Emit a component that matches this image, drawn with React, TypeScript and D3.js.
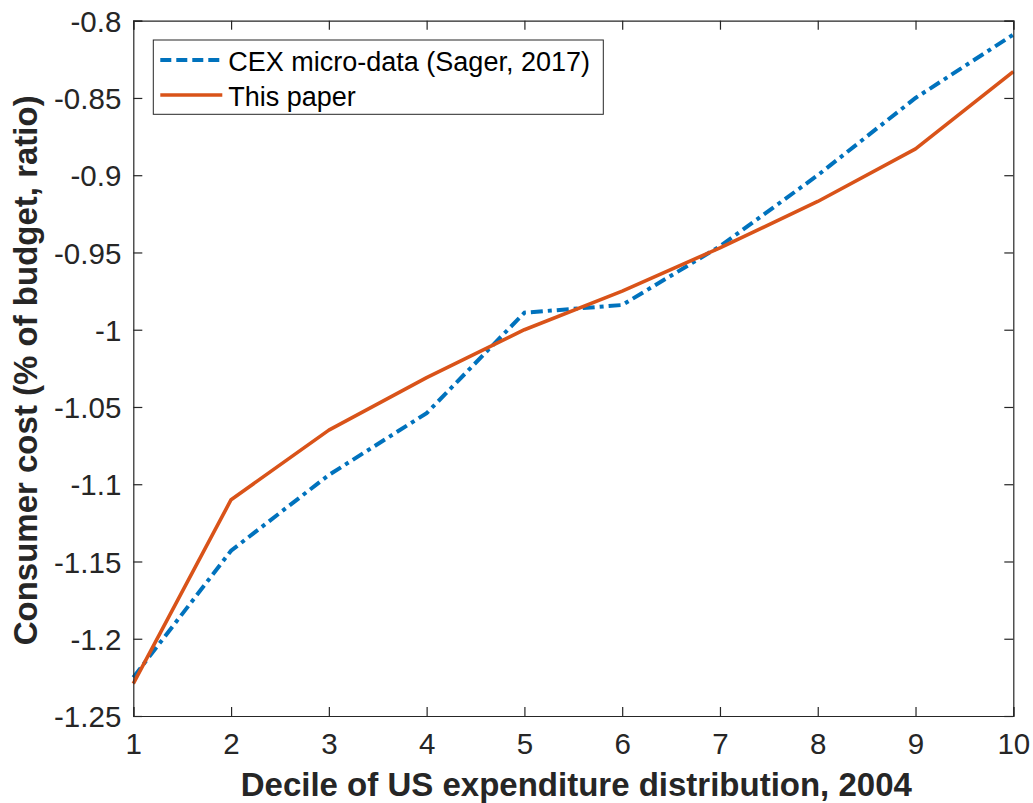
import React, { useRef, useEffect } from 'react';
import * as d3 from 'd3';

const deciles = [1, 2, 3, 4, 5, 6, 7, 8, 9, 10];
const cexValues = [-1.225, -1.143, -1.094, -1.054, -0.989, -0.984, -0.946, -0.9, -0.85, -0.809];
const paperValues = [-1.229, -1.11, -1.065, -1.031, -1.0, -0.975, -0.947, -0.917, -0.883, -0.833];
const yTicks = [-0.8, -0.85, -0.9, -0.95, -1, -1.05, -1.1, -1.15, -1.2, -1.25];
const seriesNames = ['CEX micro-data (Sager, 2017)', 'This paper'];

const axisColor = '#262626';
const blue = '#0072BD';
const orange = '#D95319';
const font = '"Liberation Sans", Arial, Helvetica, sans-serif';

const App = () => {
  const svgRef = useRef<SVGSVGElement>(null);
  const width = 1033;
  const height = 803;
  const margin = { top: 20.7, right: 19.7, bottom: 87, left: 133.3 };

  useEffect(() => {
    const svg = d3.select(svgRef.current);
    svg.selectAll('*').remove();

    const innerW = width - margin.left - margin.right;
    const innerH = height - margin.top - margin.bottom;

    const xScale = d3.scaleLinear().domain([1, 10]).range([0, innerW]);
    const yScale = d3.scaleLinear().domain([-1.25, -0.8]).range([innerH, 0]);

    const g = svg.append('g').attr('transform', `translate(${margin.left},${margin.top})`);

    // lines first, axes box on top
    const line = d3
      .line<number>()
      .x((_, i) => xScale(deciles[i]))
      .y((d) => yScale(d));

    g.append('path')
      .datum(cexValues)
      .attr('fill', 'none')
      .attr('stroke', blue)
      .attr('stroke-width', 4)
      .attr('stroke-dasharray', '12,5,4,5')
      .attr('d', line);

    g.append('path')
      .datum(paperValues)
      .attr('fill', 'none')
      .attr('stroke', orange)
      .attr('stroke-width', 3.6)
      .attr('stroke-linejoin', 'round')
      .attr('d', line);

    const tickLen = 9;

    // bottom axis with labels
    const xAxis = d3.axisBottom(xScale).tickValues(deciles).tickSize(-tickLen).tickPadding(17).tickFormat(d3.format('d'));
    const xg = g.append('g').attr('transform', `translate(0,${innerH})`).call(xAxis);
    // top axis, ticks only
    const xgTop = g.append('g').call(d3.axisTop(xScale).tickValues(deciles).tickSize(-tickLen).tickFormat(() => ''));

    const yAxis = d3
      .axisLeft(yScale)
      .tickValues(yTicks)
      .tickSize(-tickLen)
      .tickPadding(12)
      .tickFormat((d) => `${+(+d).toFixed(2)}`);
    const yg = g.append('g').call(yAxis);
    const ygRight = g
      .append('g')
      .attr('transform', `translate(${innerW},0)`)
      .call(d3.axisRight(yScale).tickValues(yTicks).tickSize(-tickLen).tickFormat(() => ''));

    [xg, xgTop, yg, ygRight].forEach((a) => {
      a.selectAll('path').attr('stroke', axisColor).attr('stroke-width', 1.2);
      a.selectAll('line').attr('stroke', axisColor).attr('stroke-width', 1.2);
      a.selectAll('text')
        .attr('fill', axisColor)
        .style('font-family', font)
        .style('font-size', '29.5px');
    });
    yg.selectAll('text').attr('dy', '0.36em');
    xg.selectAll('text').attr('dy', '0.71em');

    // axis titles
    svg
      .append('text')
      .attr('x', margin.left + innerW / 2 + 3)
      .attr('y', 796)
      .attr('text-anchor', 'middle')
      .attr('fill', axisColor)
      .style('font-family', font)
      .style('font-weight', 'bold')
      .style('font-size', '33px')
      .text('Decile of US expenditure distribution, 2004');

    svg
      .append('text')
      .attr('transform', `translate(37,${margin.top + innerH / 2 + 2}) rotate(-90)`)
      .attr('text-anchor', 'middle')
      .attr('fill', axisColor)
      .style('font-family', font)
      .style('font-weight', 'bold')
      .style('font-size', '33px')
      .text('Consumer cost (% of budget, ratio)');

    // legend
    const legend = svg.append('g').attr('transform', 'translate(153.3,40)');
    legend
      .append('rect')
      .attr('width', 450)
      .attr('height', 74.3)
      .attr('fill', '#fff')
      .attr('stroke', axisColor)
      .attr('stroke-width', 1);

    const rows = [
      { name: seriesNames[0], color: blue, dash: '11,5', w: 4, y: 20 },
      { name: seriesNames[1], color: orange, dash: null, w: 3.6, y: 55 },
    ];
    rows.forEach((r) => {
      legend
        .append('line')
        .attr('x1', 7)
        .attr('x2', 69)
        .attr('y1', r.y)
        .attr('y2', r.y)
        .attr('stroke', r.color)
        .attr('stroke-width', r.w)
        .attr('stroke-dasharray', r.dash);
      legend
        .append('text')
        .attr('x', 75)
        .attr('y', r.y + 11)
        .attr('fill', '#000')
        .style('font-family', font)
        .style('font-size', '27px')
        .text(r.name);
    });
  }, []);

  return (
    <div style={{ position: 'absolute', left: 0, top: 0, background: '#fff' }}>
      <svg ref={svgRef} width={width} height={height} style={{ display: 'block' }}></svg>
    </div>
  );
};

export default App;
